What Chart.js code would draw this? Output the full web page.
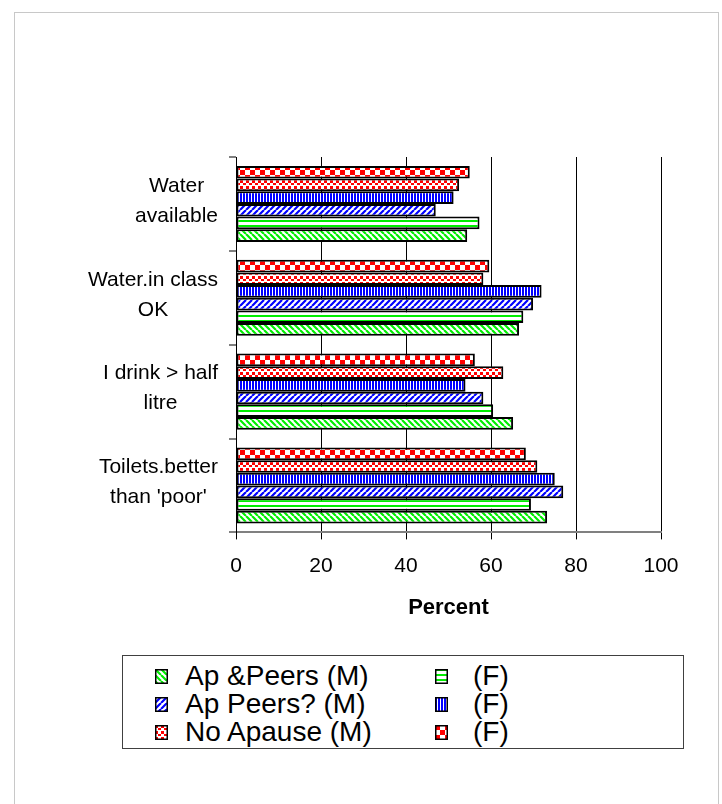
<!DOCTYPE html>
<html>
<head>
<meta charset="utf-8">
<script src="https://cdn.jsdelivr.net/npm/chart.js@4.4.0/dist/chart.umd.min.js"></script>
<style>
  body { margin: 0; background: #fff; }
  #wrap { position: relative; width: 722px; height: 804px; overflow: hidden; }
  #frame { position: absolute; left: 14px; top: 12px; width: 703px; height: 800px;
           border: 1px solid #c8c8c8; border-bottom: none; }
  #chart { position: absolute; left: 0; top: 0; }
  #legend { position: absolute; left: 122px; top: 655px; width: 560px; height: 92px;
            border: 1px solid #404040; background: #fff;
            font-family: "Liberation Sans", Arial, sans-serif; font-size: 28px; color: #000; }
  .sw { position: absolute; }
  .lt { position: absolute; line-height: 28px; white-space: pre; }
</style>
</head>
<body>
<div id="wrap">
  <div id="frame"></div>
  <canvas id="chart" width="722" height="804"></canvas>
  <div id="legend"></div>
</div>
<script>
// categories, top to bottom
const categories = [
  ["Water", "available"],
  ["Water.in class", "OK"],
  ["I drink > half", "litre"],
  ["Toilets.better", "than 'poor'"]
];

// percent values per series, same order as categories
const apPeersM   = [54.4, 66.6, 65.2, 73.2];
const apPeersF   = [57.3, 67.6, 60.5, 69.4];
const apPeersQM  = [47.0, 69.9, 58.2, 77.0];
const apPeersQF  = [51.2, 71.9, 54.0, 75.0];
const noApauseM  = [52.5, 58.2, 62.9, 70.9];
const noApauseF  = [55.0, 59.6, 56.2, 68.2];

const xTicks = [0, 20, 40, 60, 80, 100];
const xTitle = "Percent";

const legendM = ["Ap &Peers (M)", "Ap Peers? (M)", "No Apause (M)"];
const legendF = ["(F)", "(F)", "(F)"];

// pattern tiles
function tile(w, h, draw) {
  const c = document.createElement("canvas");
  c.width = w; c.height = h;
  const g = c.getContext("2d");
  g.fillStyle = "#fff";
  g.fillRect(0, 0, w, h);
  draw(g, w, h);
  return c;
}
function diag(color, down) {
  return tile(6, 6, (g, s) => {
    g.strokeStyle = color;
    g.lineWidth = 2.2;
    g.beginPath();
    for (let k = -s; k <= s; k += s) {
      if (down) { g.moveTo(k, 0); g.lineTo(k + s, s); }
      else { g.moveTo(k, s); g.lineTo(k + s, 0); }
    }
    g.stroke();
  });
}
const tiles = {
  greenDiag: diag("#00ee00", true),
  greenHoriz: tile(5, 5, (g) => { g.fillStyle = "#00ee00"; g.fillRect(0, 0, 5, 2); }),
  blueDiag: diag("#0000ff", false),
  blueVert: tile(3, 3, (g) => { g.fillStyle = "#0000ff"; g.fillRect(0, 0, 2, 3); }),
  redDots: tile(6, 6, (g) => {
    g.fillStyle = "#ff0000";
    g.fillRect(0, 0, 3, 3); g.fillRect(3, 3, 3, 2);
  }),
  redCheck: tile(10, 10, (g) => {
    g.fillStyle = "#ff0000";
    g.fillRect(0, 0, 5, 5); g.fillRect(5, 5, 5, 5);
  })
};

const ctx = document.getElementById("chart").getContext("2d");
function pat(t) { return ctx.createPattern(t, "repeat"); }

// top to bottom inside each category
const series = [
  { label: "No Apause (F)", data: noApauseF, t: tiles.redCheck },
  { label: "No Apause (M)", data: noApauseM, t: tiles.redDots },
  { label: "Ap Peers? (F)", data: apPeersQF, t: tiles.blueVert },
  { label: "Ap Peers? (M)", data: apPeersQM, t: tiles.blueDiag },
  { label: "Ap &Peers (F)", data: apPeersF, t: tiles.greenHoriz },
  { label: "Ap &Peers (M)", data: apPeersM, t: tiles.greenDiag }
];

const font = '"Liberation Sans", Arial, sans-serif';

const catLabels = {
  id: "catLabels",
  afterDraw(chart) {
    const c = chart.ctx;
    const ys = chart.scales.y;
    const right = chart.chartArea.left - 18;
    c.save();
    c.font = "21px " + font;
    c.fillStyle = "#000";
    c.textAlign = "center";
    c.textBaseline = "middle";
    categories.forEach((lines, i) => {
      const w = Math.max(...lines.map(l => c.measureText(l).width));
      const cx = right - w / 2;
      const cy = ys.getPixelForValue(i) - 3;
      lines.forEach((l, j) => {
        c.fillText(l, cx, cy + (j - (lines.length - 1) / 2) * 30);
      });
    });
    c.restore();
  }
};

new Chart(ctx, {
  type: "bar",
  data: {
    labels: categories.map(l => l.join(" ")),
    datasets: series.map(s => ({
      label: s.label,
      data: s.data,
      backgroundColor: pat(s.t),
      borderColor: "#000",
      borderWidth: 2,
      borderSkipped: false
    }))
  },
  options: {
    indexAxis: "y",
    responsive: false,
    animation: false,
    devicePixelRatio: 1,
    categoryPercentage: 0.81,
    barPercentage: 1.0,
    layout: { padding: { left: 86, right: 61, top: 157, bottom: 179 } },
    plugins: { legend: { display: false }, tooltip: { enabled: false } },
    scales: {
      x: {
        min: 0, max: 100,
        afterBuildTicks: (s) => { s.ticks = xTicks.map(v => ({ value: v })); },
        ticks: { color: "#000", font: { family: font, size: 21 }, padding: 14 },
        grid: { color: "#000", lineWidth: 1, tickLength: 7, drawTicks: true },
        border: { color: "#808080", width: 2 },
        title: { display: true, text: xTitle, color: "#000",
                 font: { family: font, size: 22, weight: "bold" },
                 padding: { top: 2, bottom: 4 } }
      },
      y: {
        afterFit: (s) => { s.width = 150; },
        ticks: { display: false },
        grid: { offset: true, drawOnChartArea: false, drawTicks: true,
                tickLength: 7, color: "#808080", lineWidth: 2 },
        border: { color: "#000", width: 1 }
      }
    }
  },
  plugins: [catLabels]
});

// legend: two columns, M series left, F series right
const leg = document.getElementById("legend");
const legTiles = [
  [tiles.greenDiag, tiles.greenHoriz],
  [tiles.blueDiag, tiles.blueVert],
  [tiles.redDots, tiles.redCheck]
];
function swatch(t, x, y) {
  const c = document.createElement("canvas");
  c.width = 13; c.height = 15;
  c.className = "sw";
  c.style.left = x + "px";
  c.style.top = y + "px";
  const g = c.getContext("2d");
  g.fillStyle = g.createPattern(t, "repeat");
  g.fillRect(0, 0, 13, 15);
  g.strokeStyle = "#000";
  g.lineWidth = 1.5;
  g.strokeRect(0.75, 0.75, 11.5, 13.5);
  leg.appendChild(c);
}
function text(s, x, y) {
  const d = document.createElement("div");
  d.className = "lt";
  d.textContent = s;
  d.style.left = x + "px";
  d.style.top = y + "px";
  leg.appendChild(d);
}
for (let r = 0; r < 3; r++) {
  const cy = 20 + r * 28;
  swatch(legTiles[r][0], 32, cy - 7);
  text(legendM[r], 62, cy - 14);
  swatch(legTiles[r][1], 312, cy - 7);
  text(legendF[r], 350, cy - 14);
}
</script>
</body>
</html>
